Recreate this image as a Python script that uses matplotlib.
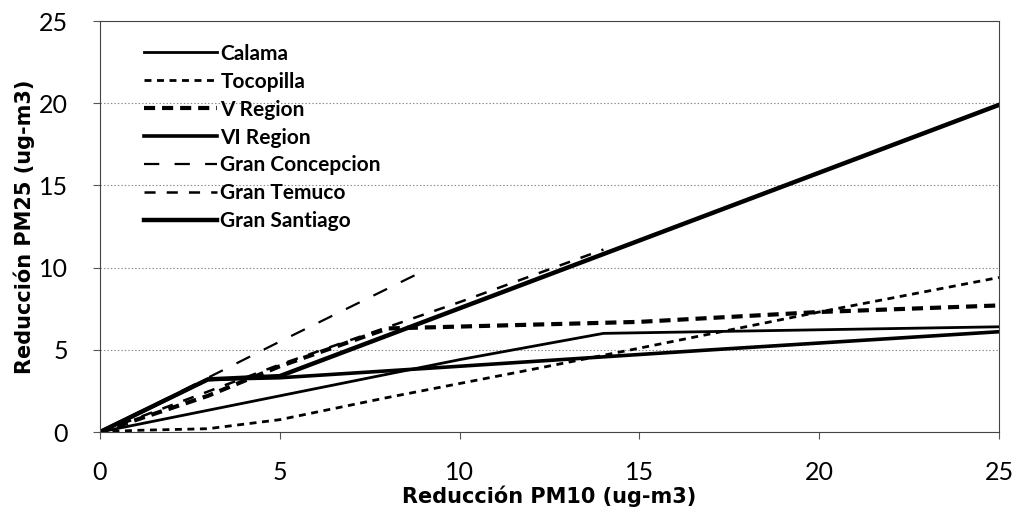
import matplotlib
matplotlib.use('Agg')
import matplotlib.pyplot as plt
from matplotlib import rcParams

rcParams['font.family'] = ['Lato', 'DejaVu Sans']
rcParams['lines.scale_dashes'] = False

# series (x = PM10 reduction, y = PM25 reduction)
calama_x = [0, 5, 10, 14, 25]
calama_y = [0, 2.2, 4.4, 6.0, 6.4]
tocopilla_x = [0, 1, 3, 5, 8, 10, 12, 15, 20, 25]
tocopilla_y = [0, 0.1, 0.2, 0.75, 2.1, 2.95, 3.8, 5.1, 7.3, 9.4]
vregion_x = [0, 3, 5, 8, 15, 20, 25]
vregion_y = [0, 2.2, 4.0, 6.3, 6.7, 7.3, 7.7]
viregion_x = [0, 3, 5, 10, 17, 25]
viregion_y = [0, 3.2, 3.3, 4.0, 5.0, 6.1]
concepcion_x = [0, 5, 9]
concepcion_y = [0, 5.5, 9.8]
temuco_x = [0, 5, 10, 14]
temuco_y = [0, 4.1, 7.9, 11.1]
santiago_x = [0, 3, 5, 25]
santiago_y = [0, 3.2, 3.4, 19.9]

fig = plt.figure(figsize=(10.17, 5.26), dpi=100)
ax = fig.add_axes([0.0983, 0.1787, 0.884, 0.7813])

ax.plot(calama_x, calama_y, color='black', lw=2.0, label='Calama')
ax.plot(tocopilla_x, tocopilla_y, color='black', lw=2.0, dashes=(5, 4), label='Tocopilla')
ax.plot(vregion_x, vregion_y, color='black', lw=3.0, dashes=(8, 5), label='V Region')
ax.plot(viregion_x, viregion_y, color='black', lw=2.6, label='VI Region')
ax.plot(concepcion_x, concepcion_y, color='black', lw=1.6, dashes=(11, 11), label='Gran Concepcion')
ax.plot(temuco_x, temuco_y, color='black', lw=1.8, dashes=(8, 8), label='Gran Temuco')
ax.plot(santiago_x, santiago_y, color='black', lw=3.2, label='Gran Santiago')

ax.set_xlim(0, 25)
ax.set_ylim(0, 25)
ax.set_xticks([0, 5, 10, 15, 20, 25])
ax.set_yticks([0, 5, 10, 15, 20, 25])
ax.tick_params(axis='both', labelsize=18, direction='out', length=5, width=0.8, colors='#555555', labelcolor='black')
ax.tick_params(axis='x', pad=16)
ax.tick_params(axis='y', pad=18)

ax.yaxis.grid(True, color='#888888', linestyle=(0, (1, 1.5)), linewidth=0.8)
ax.set_axisbelow(True)
for s in ['left', 'bottom', 'right', 'top']:
    ax.spines[s].set_color('#444444')
    ax.spines[s].set_linewidth(0.8)

ax.set_xlabel('Reducción PM10 (ug-m3)', fontsize=15, fontweight='bold',
              family='DejaVu Sans', labelpad=1)
ax.set_ylabel('Reducción PM25 (ug-m3)', fontsize=15, fontweight='bold',
              family='DejaVu Sans', labelpad=3)

leg = ax.legend(loc='upper left', bbox_to_anchor=(0.04, 0.965), frameon=False,
                fontsize=15, handlelength=3.5, handletextpad=0.15, labelspacing=0.38,
                borderaxespad=0)
for t in leg.get_texts():
    t.set_fontweight('bold')

fig.savefig('out.png', dpi=100)
